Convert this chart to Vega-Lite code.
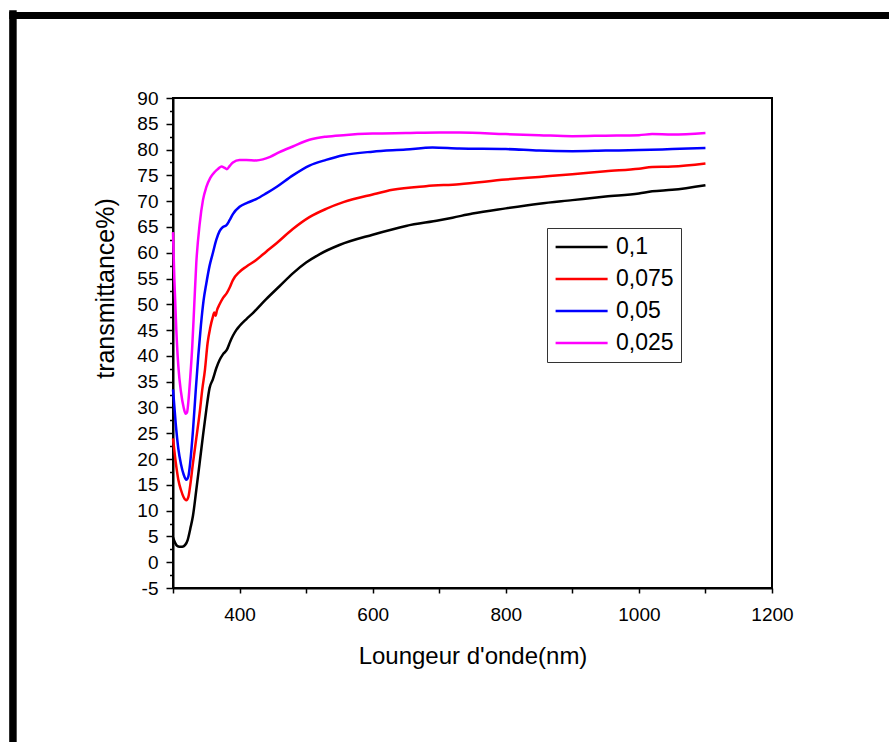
{
  "$schema": "https://vega.github.io/schema/vega-lite/v6.json",
  "width": 599,
  "height": 490,
  "autosize": {"type": "none"},
  "padding": {"left": 173, "top": 98, "right": 117, "bottom": 154},
  "background": "white",
  "config": {
    "view": {"stroke": "#000000", "strokeWidth": 2},
    "font": "Liberation Sans",
    "axis": {"grid": false, "domainColor": "#000000", "domainWidth": 2, "tickColor": "#000000", "tickWidth": 1.5, "labelColor": "#000000", "titleColor": "#000000", "labelFont": "Liberation Sans", "titleFont": "Liberation Sans", "titleFontWeight": "normal"}
  },
  "datasets": {
    "spectra": [
      {"wl":300,"T":4.8,"c":"0,1"},{"wl":303,"T":3.8,"c":"0,1"},{"wl":306,"T":3.2,"c":"0,1"},{"wl":310,"T":3.0,"c":"0,1"},{"wl":314,"T":3.0,"c":"0,1"},{"wl":318,"T":3.3,"c":"0,1"},{"wl":322,"T":4.3,"c":"0,1"},{"wl":326,"T":6.5,"c":"0,1"},{"wl":330,"T":9.0,"c":"0,1"},{"wl":335,"T":14,"c":"0,1"},{"wl":340,"T":19.2,"c":"0,1"},{"wl":345,"T":24.5,"c":"0,1"},{"wl":350,"T":29.5,"c":"0,1"},{"wl":355,"T":33.8,"c":"0,1"},{"wl":360,"T":35.5,"c":"0,1"},{"wl":365,"T":37.6,"c":"0,1"},{"wl":370,"T":39.2,"c":"0,1"},{"wl":375,"T":40.3,"c":"0,1"},{"wl":381,"T":41.2,"c":"0,1"},{"wl":386,"T":42.8,"c":"0,1"},{"wl":390,"T":43.9,"c":"0,1"},{"wl":395,"T":45,"c":"0,1"},{"wl":400,"T":45.8,"c":"0,1"},{"wl":410,"T":47.1,"c":"0,1"},{"wl":420,"T":48.3,"c":"0,1"},{"wl":440,"T":51,"c":"0,1"},{"wl":460,"T":53.5,"c":"0,1"},{"wl":480,"T":56,"c":"0,1"},{"wl":500,"T":58.1,"c":"0,1"},{"wl":520,"T":59.7,"c":"0,1"},{"wl":550,"T":61.5,"c":"0,1"},{"wl":600,"T":63.5,"c":"0,1"},{"wl":650,"T":65.2,"c":"0,1"},{"wl":700,"T":66.3,"c":"0,1"},{"wl":720,"T":66.8,"c":"0,1"},{"wl":750,"T":67.6,"c":"0,1"},{"wl":800,"T":68.6,"c":"0,1"},{"wl":850,"T":69.5,"c":"0,1"},{"wl":900,"T":70.2,"c":"0,1"},{"wl":950,"T":70.9,"c":"0,1"},{"wl":1000,"T":71.5,"c":"0,1"},{"wl":1020,"T":71.9,"c":"0,1"},{"wl":1050,"T":72.2,"c":"0,1"},{"wl":1100,"T":73.1,"c":"0,1"},
      {"wl":300,"T":24,"c":"0,075"},{"wl":304,"T":19.5,"c":"0,075"},{"wl":308,"T":16,"c":"0,075"},{"wl":312,"T":14,"c":"0,075"},{"wl":316,"T":12.6,"c":"0,075"},{"wl":320,"T":12,"c":"0,075"},{"wl":323,"T":12.6,"c":"0,075"},{"wl":326,"T":15,"c":"0,075"},{"wl":330,"T":19.2,"c":"0,075"},{"wl":335,"T":24,"c":"0,075"},{"wl":340,"T":28.9,"c":"0,075"},{"wl":344,"T":33.5,"c":"0,075"},{"wl":348,"T":37.3,"c":"0,075"},{"wl":352,"T":42.5,"c":"0,075"},{"wl":356,"T":45.5,"c":"0,075"},{"wl":360,"T":47.6,"c":"0,075"},{"wl":362,"T":48.4,"c":"0,075"},{"wl":364,"T":47.8,"c":"0,075"},{"wl":366,"T":48.8,"c":"0,075"},{"wl":370,"T":50,"c":"0,075"},{"wl":375,"T":51.2,"c":"0,075"},{"wl":381,"T":52.2,"c":"0,075"},{"wl":385,"T":53.2,"c":"0,075"},{"wl":390,"T":54.7,"c":"0,075"},{"wl":400,"T":56.3,"c":"0,075"},{"wl":410,"T":57.3,"c":"0,075"},{"wl":425,"T":58.6,"c":"0,075"},{"wl":440,"T":60.2,"c":"0,075"},{"wl":456,"T":61.9,"c":"0,075"},{"wl":480,"T":64.6,"c":"0,075"},{"wl":505,"T":66.9,"c":"0,075"},{"wl":530,"T":68.5,"c":"0,075"},{"wl":556,"T":69.8,"c":"0,075"},{"wl":600,"T":71.3,"c":"0,075"},{"wl":630,"T":72.2,"c":"0,075"},{"wl":680,"T":72.9,"c":"0,075"},{"wl":730,"T":73.3,"c":"0,075"},{"wl":800,"T":74.2,"c":"0,075"},{"wl":850,"T":74.7,"c":"0,075"},{"wl":900,"T":75.2,"c":"0,075"},{"wl":950,"T":75.8,"c":"0,075"},{"wl":1000,"T":76.3,"c":"0,075"},{"wl":1020,"T":76.6,"c":"0,075"},{"wl":1050,"T":76.7,"c":"0,075"},{"wl":1100,"T":77.3,"c":"0,075"},
      {"wl":300,"T":33.5,"c":"0,05"},{"wl":304,"T":27,"c":"0,05"},{"wl":308,"T":22,"c":"0,05"},{"wl":312,"T":19,"c":"0,05"},{"wl":316,"T":17,"c":"0,05"},{"wl":320,"T":16,"c":"0,05"},{"wl":323,"T":16.6,"c":"0,05"},{"wl":326,"T":19.5,"c":"0,05"},{"wl":330,"T":25.5,"c":"0,05"},{"wl":334,"T":33,"c":"0,05"},{"wl":338,"T":40,"c":"0,05"},{"wl":342,"T":46,"c":"0,05"},{"wl":346,"T":50.8,"c":"0,05"},{"wl":350,"T":54,"c":"0,05"},{"wl":355,"T":57.5,"c":"0,05"},{"wl":360,"T":60,"c":"0,05"},{"wl":365,"T":62.5,"c":"0,05"},{"wl":370,"T":64.2,"c":"0,05"},{"wl":375,"T":65,"c":"0,05"},{"wl":380,"T":65.3,"c":"0,05"},{"wl":385,"T":66.3,"c":"0,05"},{"wl":390,"T":67.5,"c":"0,05"},{"wl":400,"T":68.9,"c":"0,05"},{"wl":412,"T":69.7,"c":"0,05"},{"wl":425,"T":70.4,"c":"0,05"},{"wl":440,"T":71.5,"c":"0,05"},{"wl":456,"T":72.8,"c":"0,05"},{"wl":480,"T":75,"c":"0,05"},{"wl":505,"T":76.9,"c":"0,05"},{"wl":530,"T":78,"c":"0,05"},{"wl":556,"T":78.9,"c":"0,05"},{"wl":600,"T":79.6,"c":"0,05"},{"wl":650,"T":80,"c":"0,05"},{"wl":690,"T":80.4,"c":"0,05"},{"wl":730,"T":80.2,"c":"0,05"},{"wl":800,"T":80.1,"c":"0,05"},{"wl":850,"T":79.8,"c":"0,05"},{"wl":900,"T":79.7,"c":"0,05"},{"wl":950,"T":79.8,"c":"0,05"},{"wl":1000,"T":79.9,"c":"0,05"},{"wl":1050,"T":80.1,"c":"0,05"},{"wl":1100,"T":80.3,"c":"0,05"},
      {"wl":300,"T":64,"c":"0,025"},{"wl":302,"T":55,"c":"0,025"},{"wl":305,"T":45,"c":"0,025"},{"wl":308,"T":38,"c":"0,025"},{"wl":312,"T":33,"c":"0,025"},{"wl":316,"T":30,"c":"0,025"},{"wl":319,"T":28.8,"c":"0,025"},{"wl":321,"T":29,"c":"0,025"},{"wl":323,"T":31,"c":"0,025"},{"wl":326,"T":36,"c":"0,025"},{"wl":329,"T":42,"c":"0,025"},{"wl":332,"T":50,"c":"0,025"},{"wl":335,"T":58,"c":"0,025"},{"wl":340,"T":65.5,"c":"0,025"},{"wl":345,"T":70.2,"c":"0,025"},{"wl":350,"T":72.7,"c":"0,025"},{"wl":356,"T":74.5,"c":"0,025"},{"wl":363,"T":75.7,"c":"0,025"},{"wl":368,"T":76.3,"c":"0,025"},{"wl":373,"T":76.7,"c":"0,025"},{"wl":377,"T":76.5,"c":"0,025"},{"wl":381,"T":76.2,"c":"0,025"},{"wl":385,"T":76.8,"c":"0,025"},{"wl":390,"T":77.5,"c":"0,025"},{"wl":400,"T":78,"c":"0,025"},{"wl":410,"T":78,"c":"0,025"},{"wl":425,"T":77.9,"c":"0,025"},{"wl":435,"T":78.1,"c":"0,025"},{"wl":446,"T":78.6,"c":"0,025"},{"wl":460,"T":79.5,"c":"0,025"},{"wl":480,"T":80.6,"c":"0,025"},{"wl":505,"T":81.9,"c":"0,025"},{"wl":530,"T":82.5,"c":"0,025"},{"wl":556,"T":82.8,"c":"0,025"},{"wl":600,"T":83.1,"c":"0,025"},{"wl":650,"T":83.2,"c":"0,025"},{"wl":700,"T":83.3,"c":"0,025"},{"wl":730,"T":83.3,"c":"0,025"},{"wl":800,"T":83,"c":"0,025"},{"wl":850,"T":82.8,"c":"0,025"},{"wl":900,"T":82.6,"c":"0,025"},{"wl":950,"T":82.7,"c":"0,025"},{"wl":1000,"T":82.8,"c":"0,025"},{"wl":1020,"T":83,"c":"0,025"},{"wl":1050,"T":82.9,"c":"0,025"},{"wl":1100,"T":83.2,"c":"0,025"}
    ],
    "frame": [{"part": "left"}]
  },
  "resolve": {"scale": {"x": "independent", "y": "independent"}, "axis": {"x": "independent", "y": "independent"}},
  "layer": [
    {
      "data": {"name": "spectra"},
      "mark": {"type": "line", "strokeWidth": 2.5, "interpolate": "monotone"},
      "encoding": {
        "x": {"field": "wl", "type": "quantitative",
          "scale": {"domain": [300, 1200], "nice": false, "zero": false},
          "axis": {"title": "Loungeur d'onde(nm)", "titleFontSize": 24, "titleX": 299.5, "titleY": 75, "titleBaseline": "alphabetic", "titleAlign": "center",
            "values": [300,400,500,600,700,800,900,1000,1100,1200],
            "labelExpr": "datum.value % 200 === 0 ? toString(datum.value) : ''",
            "labelFontSize": 19, "tickSize": 5, "labelPadding": 12, "labelFlush": false, "labelOverlap": false}},
        "y": {"field": "T", "type": "quantitative",
          "scale": {"domain": [-5, 90], "nice": false, "zero": false},
          "axis": {"title": "transmittance%)", "titleFontSize": 25, "titleAngle": -90, "titleX": -60, "titleY": 190, "titleBaseline": "alphabetic", "titleAlign": "center",
            "values": [-5,-2.5,0,2.5,5,7.5,10,12.5,15,17.5,20,22.5,25,27.5,30,32.5,35,37.5,40,42.5,45,47.5,50,52.5,55,57.5,60,62.5,65,67.5,70,72.5,75,77.5,80,82.5,85,87.5,90],
            "labelExpr": "datum.value % 5 === 0 ? toString(datum.value) : ''",
            "labelFontSize": 19, "labelPadding": 8, "labelOverlap": false, "labelFlush": false, "labelBound": false,
            "tickSize": {"condition": {"test": "datum.value % 5 === 0", "value": 7}, "value": 3.5}}},
        "color": {"field": "c", "type": "nominal",
          "scale": {"domain": ["0,1", "0,075", "0,05", "0,025"], "range": ["#000000", "#ff0000", "#0000ff", "#ff00ff"]},
          "legend": {"title": null, "orient": "none", "legendX": 374, "legendY": 130,
            "strokeColor": "#333333", "padding": 7, "fillColor": "white",
            "symbolType": "M-1,0H4", "symbolSize": 433, "symbolStrokeWidth": 2.5,
            "labelFontSize": 23, "labelFont": "Liberation Sans", "labelColor": "#000000", "labelOffset": 38, "rowPadding": 8}}
      }
    },
    {
      "data": {"name": "frame"},
      "mark": {"type": "rule", "color": "#000000", "strokeWidth": 7.5, "clip": false},
      "encoding": {
        "x": {"datum": 59.5, "type": "quantitative", "scale": {"domain": [300, 1200], "nice": false, "zero": false}, "axis": null},
        "y": {"datum": 107, "type": "quantitative", "scale": {"domain": [-5, 90], "nice": false, "zero": false}, "axis": null},
        "y2": {"datum": -40}}
    },
    {
      "data": {"name": "frame"},
      "mark": {"type": "rule", "color": "#000000", "strokeWidth": 7, "clip": false},
      "encoding": {
        "x": {"datum": 54, "type": "quantitative", "scale": {"domain": [300, 1200], "nice": false, "zero": false}, "axis": null},
        "x2": {"datum": 1400},
        "y": {"datum": 106, "type": "quantitative", "scale": {"domain": [-5, 90], "nice": false, "zero": false}, "axis": null}}
    }
  ]
}
